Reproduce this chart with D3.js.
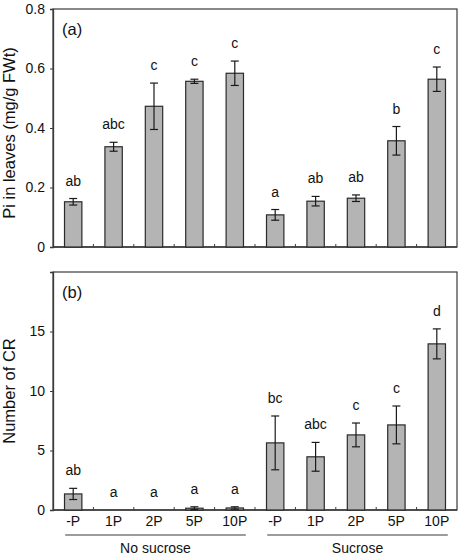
<!DOCTYPE html>
<html>
<head>
<meta charset="utf-8">
<script src="https://cdn.jsdelivr.net/npm/d3@7"></script>
<style>
  html, body { margin: 0; padding: 0; background: #fff; }
  svg { display: block; font-family: "Liberation Sans", Arial, sans-serif; }
</style>
</head>
<body>
<svg id="chart" width="460" height="558"></svg>
<script>
// ---- data ----
const categories = ["-P", "1P", "2P", "5P", "10P", "-P", "1P", "2P", "5P", "10P"];
const groups = ["No sucrose", "Sucrose"];
const groupOf = [0, 0, 0, 0, 0, 1, 1, 1, 1, 1];

const piValues = [0.152, 0.337, 0.473, 0.557, 0.584, 0.108, 0.154, 0.164, 0.357, 0.564];
const piErrors = [0.011, 0.015, 0.078, 0.007, 0.041, 0.018, 0.016, 0.011, 0.048, 0.041];
const piLetters = ["ab", "abc", "c", "c", "c", "a", "ab", "ab", "b", "c"];
const piTicks = [0, 0.2, 0.4, 0.6, 0.8];
const piTickLabels = ["0", "0.2", "0.4", "0.6", "0.8"];

const crValues = [1.35, 0, 0, 0.15, 0.17, 5.64, 4.47, 6.31, 7.15, 13.96];
const crErrors = [0.47, 0, 0, 0.12, 0.1, 2.26, 1.21, 1.0, 1.59, 1.26];
const crLetters = ["ab", "a", "a", "a", "a", "bc", "abc", "c", "c", "d"];
const crTicks = [0, 5, 10, 15];
const crTickLabels = ["0", "5", "10", "15"];

// ---- layout ----
const svg = d3.select("#chart");
const left = 53, right = 457;
const panels = [
  { top: 9, bottom: 247, max: 0.8, values: piValues, errors: piErrors, letters: piLetters,
    ticks: piTicks, tickLabels: piTickLabels, title: "Pi in leaves (mg/g FWt)", tag: "(a)", titleY: 133 },
  { top: 272, bottom: 510, max: 20, values: crValues, errors: crErrors, letters: crLetters,
    ticks: crTicks, tickLabels: crTickLabels, title: "Number of CR", tag: "(b)", titleY: 391 }
];

const x = d3.scaleBand()
  .domain(d3.range(categories.length))
  .range([left, right])
  .paddingInner(0.57)
  .paddingOuter(0.285);

const frameColor = "#3a3a3a";

panels.forEach((p, pi) => {
  const y = d3.scaleLinear().domain([0, p.max]).range([p.bottom, p.top]);
  const g = svg.append("g");

  // frame
  g.append("rect")
    .attr("x", left).attr("y", p.top)
    .attr("width", right - left).attr("height", p.bottom - p.top)
    .attr("fill", "none").attr("stroke", frameColor).attr("stroke-width", 1.2);

  // y axis
  const yAxis = d3.axisLeft(y)
    .tickValues(p.ticks)
    .tickFormat((d, i) => p.tickLabels[i])
    .tickSize(3).tickPadding(5);
  const ya = g.append("g").attr("transform", `translate(${left},0)`).call(yAxis);
  ya.select(".domain").attr("stroke", frameColor).attr("stroke-width", 1.3);
  ya.selectAll(".tick line").attr("stroke", frameColor).attr("stroke-width", 1);
  ya.selectAll(".tick text").attr("font-size", 14).attr("fill", "#111")
    .attr("font-family", "Liberation Sans, Arial, sans-serif");

  // x axis inner ticks between bands
  const step = x.step();
  const bw = x.bandwidth();
  const xa = g.append("g");
  xa.selectAll("line.xt")
    .data(d3.range(1, categories.length))
    .join("line")
    .attr("x1", i => x(i) - (step - bw) / 2)
    .attr("x2", i => x(i) - (step - bw) / 2)
    .attr("y1", p.bottom).attr("y2", p.bottom - 3)
    .attr("stroke", frameColor).attr("stroke-width", 1);
  xa.append("line")
    .attr("x1", left).attr("x2", right)
    .attr("y1", p.bottom).attr("y2", p.bottom)
    .attr("stroke", frameColor).attr("stroke-width", 1.3);

  // bars
  g.selectAll("rect.bar")
    .data(p.values)
    .join("rect")
    .attr("class", "bar")
    .attr("x", (d, i) => x(i))
    .attr("width", bw)
    .attr("y", d => y(d))
    .attr("height", d => y(0) - y(d))
    .attr("fill", "#b4b4b4")
    .attr("stroke", "#2a2a2a")
    .attr("stroke-width", 1.2);

  // error bars
  const eg = g.append("g").attr("stroke", "#1a1a1a").attr("stroke-width", 1.2);
  p.values.forEach((v, i) => {
    const e = p.errors[i];
    if (!e) return;
    const cx = x(i) + bw / 2;
    eg.append("line").attr("x1", cx).attr("x2", cx).attr("y1", y(v - e)).attr("y2", y(v + e));
    eg.append("line").attr("x1", cx - 4).attr("x2", cx + 4).attr("y1", y(v + e)).attr("y2", y(v + e));
    eg.append("line").attr("x1", cx - 4).attr("x2", cx + 4).attr("y1", y(v - e)).attr("y2", y(v - e));
  });

  // significance letters
  g.selectAll("text.letter")
    .data(p.letters)
    .join("text")
    .attr("class", "letter")
    .attr("x", (d, i) => x(i) + bw / 2)
    .attr("y", (d, i) => y(p.values[i] + p.errors[i]) - 13)
    .attr("text-anchor", "middle")
    .attr("font-size", 14)
    .attr("fill", "#111")
    .text(d => d);

  // panel tag
  g.append("text")
    .attr("x", left + 9).attr("y", p.top + 26)
    .attr("font-size", 16.5).attr("fill", "#111")
    .text(p.tag);

  // y title
  g.append("text")
    .attr("transform", `translate(15,${p.titleY}) rotate(-90)`)
    .attr("text-anchor", "middle")
    .attr("font-size", 16.5).attr("fill", "#111")
    .text(p.title);

  // x labels on bottom panel only
  if (pi === 1) {
    g.selectAll("text.xl")
      .data(categories)
      .join("text")
      .attr("class", "xl")
      .attr("x", (d, i) => x(i) + bw / 2)
      .attr("y", p.bottom + 16)
      .attr("text-anchor", "middle")
      .attr("font-size", 14)
      .attr("fill", "#111")
      .text(d => d);

    groups.forEach((gname, gi) => {
      const idx = d3.range(categories.length).filter(i => groupOf[i] === gi);
      const x1 = x(idx[0]) + bw / 2 - 8;
      const x2 = x(idx[idx.length - 1]) + bw / 2 + 11;
      g.append("line")
        .attr("x1", x1).attr("x2", x2)
        .attr("y1", p.bottom + 25).attr("y2", p.bottom + 25)
        .attr("stroke", frameColor).attr("stroke-width", 1.2);
      g.append("text")
        .attr("x", (x1 + x2) / 2)
        .attr("y", p.bottom + 43)
        .attr("text-anchor", "middle")
        .attr("font-size", 14)
        .attr("fill", "#111")
        .text(gname);
    });
  }
});
</script>
</body>
</html>
